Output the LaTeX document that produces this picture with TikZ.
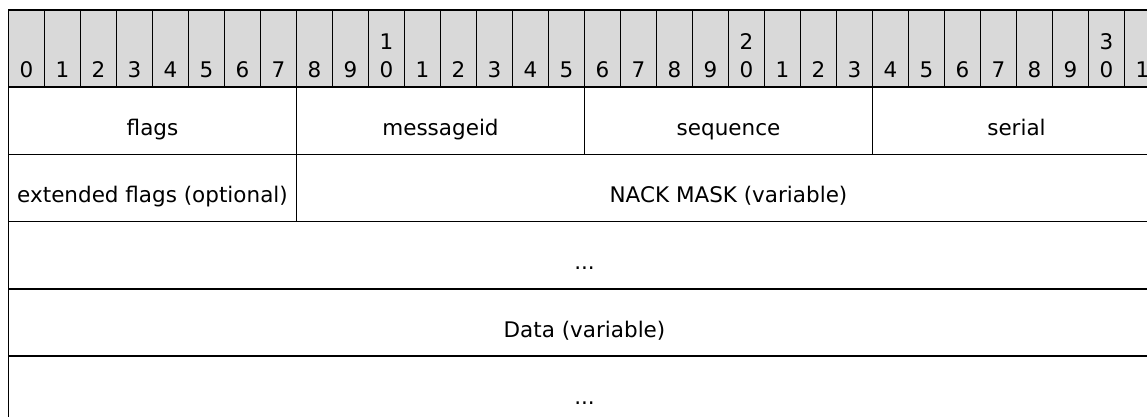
\documentclass[tikz,border=0pt]{standalone}
\usepackage{fontspec}
\setmainfont{DejaVu Sans}
\definecolor{hdr}{RGB}{217,217,217}
\begin{document}
\begin{tikzpicture}[x=1pt,y=-1pt,
  hcell/.style={draw=black, fill=hdr, line width=1.2pt},
  bcell/.style={draw=black, line width=1.5pt},
  txt/.style={anchor=base, inner sep=0pt, font=\fontsize{21.5}{27.5}\selectfont, text=black}]
\useasboundingbox (0,0) rectangle (1147,416);
\clip (0,0) rectangle (1147,416);
% header row of bit numbers
\foreach \i in {0,...,31} {
  \pgfmathsetmacro\xl{8.5+36*\i}
  \pgfmathsetmacro\xc{26.5+36*\i}
  \pgfmathtruncatemacro\d{mod(\i,10)}
  \pgfmathtruncatemacro\t{div(\i,10)}
  \draw[hcell] (\xl,10) rectangle ++(36,77);
  \node[txt] (b\i) at (\xc,77) {\d};
  \ifnum\d=0 \ifnum\t>0
    \node[txt] (bt\i) at (\xc,49.5) {\t};
  \fi\fi
}
% row 1
\draw[bcell] (8.5,87) rectangle (296.5,154.25);
\draw[bcell] (296.5,87) rectangle (584.5,154.25);
\draw[bcell] (584.5,87) rectangle (872.5,154.25);
\draw[bcell] (872.5,87) rectangle (1160.5,154.25);
\node[txt] (flags) at (152.5,135.25) {flags};
\node[txt] (msgid) at (440.5,135.25) {messageid};
\node[txt] (seq) at (728.5,135.25) {sequence};
\node[txt] (serial) at (1016.5,135.25) {serial};
% row 2
\draw[bcell] (8.5,154.25) rectangle (296.5,221.5);
\draw[bcell] (296.5,154.25) rectangle (1160.5,221.5);
\node[txt] (ext) at (152.5,202.5) {extended flags (optional)};
\node[txt] (nack) at (728.5,202.5) {NACK MASK (variable)};
% rows 3-5
\draw[bcell] (8.5,221.5) rectangle (1160.5,288.75);
\draw[bcell] (8.5,288.75) rectangle (1160.5,356);
\draw[bcell] (8.5,356) rectangle (1160.5,423.25);
\node[txt] (dots1) at (584.5,269.75) {...};
\node[txt] (data) at (584.5,337) {Data (variable)};
\node[txt] (dots2) at (584.5,404.25) {...};
\end{tikzpicture}
\end{document}
